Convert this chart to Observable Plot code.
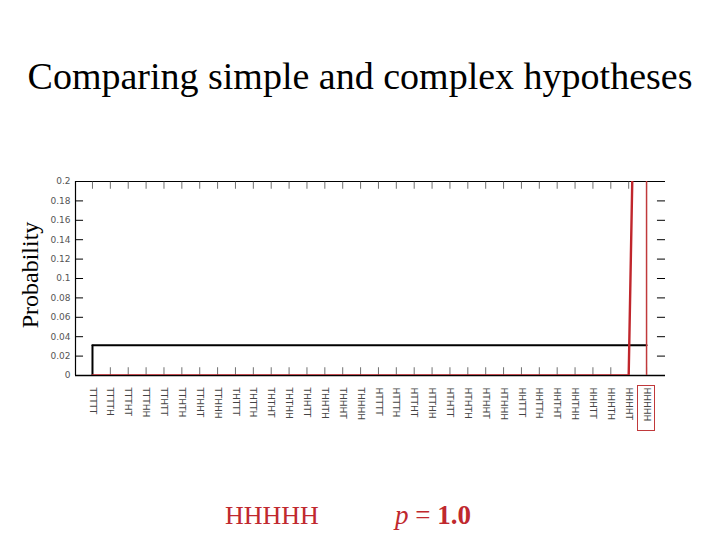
<!DOCTYPE html>
<html>
<head>
<meta charset="utf-8">
<script src="https://cdn.jsdelivr.net/npm/d3@7"></script>
<script src="https://cdn.jsdelivr.net/npm/@observablehq/plot@0.6"></script>
<style>
  html, body { margin: 0; padding: 0; background: #fff; }
  #wrap { position: relative; width: 720px; height: 540px; overflow: hidden; }
  .t { position: absolute; font-family: "Liberation Serif", "Times New Roman", serif; white-space: nowrap; }
  #title { left: 0; width: 720px; text-align: center; top: 54px; font-size: 38px; color: #000; }
  #ylab { left: 30px; top: 275px; font-size: 24px; transform: translate(-50%, -50%) rotate(-90deg); color: #000; }
  #seq { left: 225px; top: 501px; font-size: 26px; color: #c0282e; }
  #pval { left: 395px; top: 500px; font-size: 27px; color: #c0282e; }
  #labbox { position: absolute; left: 637px; top: 385px; width: 16px; height: 44px; border: 1.5px solid #c0393b; }
</style>
</head>
<body>
<div id="wrap">
  <div id="chart"></div>
  <div id="title" class="t">Comparing simple and complex hypotheses</div>
  <div id="ylab" class="t">Probability</div>
  <div id="seq" class="t">HHHHH</div>
  <div id="pval" class="t"><i>p</i> = <b>1.0</b></div>
  <div id="labbox"></div>
</div>
<script>
// 32 possible five-flip sequences (last one highlighted)
const sequences = [
  "TTTTT","TTTTH","TTTHT","TTTHH","TTHTT","TTHTH","TTHHT","TTHHH",
  "THTTT","THTTH","THTHT","THTHH","THHTT","THHTH","THHHT","THHHH",
  "HTTTT","HTTTH","HTTHT","HTTHH","HTHTT","HTHTH","HTHHT","HTHHH",
  "HHTTT","HHTTH","HHTHT","HHTHH","HHHTT","HHHTH","HHHHT","HHHHH"
];
// simple hypothesis (p = 1.0): only HHHHH possible
const simpleProb = [
  0,0,0,0,0,0,0,0, 0,0,0,0,0,0,0,0,
  0,0,0,0,0,0,0,0, 0,0,0,0,0,0,0,1
];
// complex hypothesis: uniform 1/32
const complexProb = [
  0.03125,0.03125,0.03125,0.03125,0.03125,0.03125,0.03125,0.03125,
  0.03125,0.03125,0.03125,0.03125,0.03125,0.03125,0.03125,0.03125,
  0.03125,0.03125,0.03125,0.03125,0.03125,0.03125,0.03125,0.03125,
  0.03125,0.03125,0.03125,0.03125,0.03125,0.03125,0.03125,0.03125
];
const yTicks = [0, 0.02, 0.04, 0.06, 0.08, 0.1, 0.12, 0.14, 0.16, 0.18, 0.2];
const yTickLabels = ["0","0.02","0.04","0.06","0.08","0.1","0.12","0.14","0.16","0.18","0.2"];

const data = sequences.map((s, k) => ({i: k + 1, seq: s, simple: simpleProb[k], complex: complexProb[k]}));
const idx = data.map(d => d.i);
const xDom = [0.05, 33.06];
const yDom = [0, 0.2];
const red = "#c0262c";
const tickLen = 0.45;   // in index units (~8px)
const xTickLen = 0.008; // in probability units (~3px)

const plot = Plot.plot({
  width: 720,
  height: 540,
  marginLeft: 75,
  marginRight: 55,
  marginTop: 181,
  marginBottom: 165,
  style: {background: "transparent", overflow: "visible"},
  x: {type: "linear", domain: xDom},
  y: {domain: yDom},
  marks: [
    // frame: top, left
    Plot.ruleY([yDom[1]], {x1: xDom[0], x2: xDom[1], stroke: "#000", strokeWidth: 1.2}),
    Plot.ruleX([xDom[0]], {y1: yDom[0], y2: yDom[1], stroke: "#000", strokeWidth: 1.2}),
    // inward y ticks left & right
    Plot.ruleY(yTicks, {x1: xDom[0], x2: xDom[0] + tickLen, stroke: "#000", strokeWidth: 1}),
    Plot.ruleY(yTicks.slice(1), {x1: xDom[1] - tickLen, x2: xDom[1], stroke: "#000", strokeWidth: 1}),
    // inward x ticks bottom & top
    Plot.ruleX(idx, {y1: 0, y2: xTickLen, stroke: "#333", strokeWidth: 0.7}),
    Plot.ruleX(idx, {y1: yDom[1] - xTickLen, y2: yDom[1], stroke: "#333", strokeWidth: 0.7}),
    // y tick labels
    Plot.axisY({ticks: yTicks, tickFormat: (d, k) => yTickLabels[k], tickSize: 0, tickPadding: 5,
      fontSize: 9, fontFamily: "DejaVu Sans", fill: "#555", label: null}),
    // x tick labels (rotated sequences)
    Plot.axisX({ticks: idx, tickFormat: i => sequences[i - 1], tickRotate: 90, tickSize: 0, tickPadding: 12,
      fontSize: 9, fontFamily: "DejaVu Sans", fill: "#444", label: null}),
    // complex hypothesis (black)
    Plot.ruleX(data.slice(0, 1), {x: "i", y1: 0, y2: "complex", stroke: "#000", strokeWidth: 2}),
    Plot.line(data, {x: "i", y: "complex", stroke: "#000", strokeWidth: 2}),
    // bottom axis line
    Plot.ruleY([0], {x1: xDom[0], x2: xDom[1], stroke: "#000", strokeWidth: 1.6}),
    // simple hypothesis (red), clipped
    Plot.line(data, {x: "i", y: "simple", stroke: red, strokeWidth: 2.4, clip: true}),
    // highlight edge for last column
    Plot.ruleX(data.slice(-1), {x: "i", y1: yDom[0], y2: yDom[1], stroke: "#c0393b", strokeWidth: 1.5})
  ]
});
document.getElementById("chart").appendChild(plot);
</script>
</body>
</html>
